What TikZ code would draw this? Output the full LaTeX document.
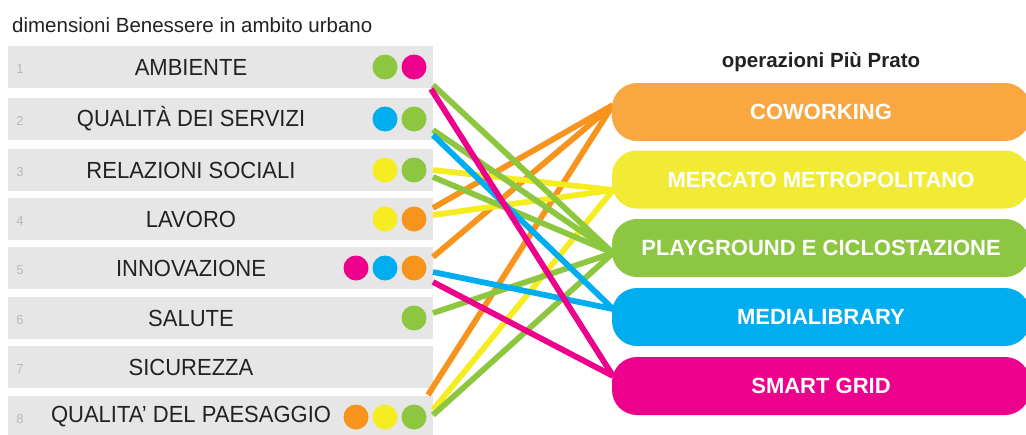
\documentclass[tikz,border=0pt]{standalone}
\usepackage{fontspec}
\setmainfont{Liberation Sans}
\definecolor{cgreen}{HTML}{8DC63F}
\definecolor{cpink}{HTML}{EC008C}
\definecolor{cblue}{HTML}{00AEEF}
\definecolor{cyellow}{HTML}{F5EC22}
\definecolor{corange}{HTML}{F7941D}
\definecolor{borange}{HTML}{F9A740}
\definecolor{byellow}{HTML}{F2EB35}
\definecolor{bgreen}{HTML}{8DC641}
\definecolor{barbg}{HTML}{E6E6E6}
\definecolor{numgray}{HTML}{B8B8B8}
\definecolor{txt}{HTML}{222222}
\tikzset{
  bar/.style={fill=barbg, draw=none, minimum width=425pt, minimum height=42pt, inner sep=0pt},
  lbl/.style={font=\fontsize{22}{26}\selectfont, text=txt, inner sep=0pt, yscale=1.06},
  num/.style={font=\fontsize{13}{15}\selectfont, text=numgray, inner sep=0pt},
  dot/.style={circle, minimum size=25pt, inner sep=0pt, draw=none},
  opbox/.style={rounded corners=25pt, minimum width=418pt, minimum height=58pt, inner sep=0pt, draw=none,
     text=white, font=\bfseries\fontsize{22}{26}\selectfont},
  link/.style={line width=5.8pt}
}
\begin{document}
\begin{tikzpicture}[x=1pt,y=-1pt]
\useasboundingbox (0,0) rectangle (1026,434);
% titles
\node[anchor=base west, inner sep=0pt, text=txt, font=\fontsize{20.5}{24}\selectfont] (tl) at (12,32) {dimensioni Benessere in ambito urbano};
\node[anchor=base, inner sep=0pt, text=txt, font=\bfseries\fontsize{20.5}{24}\selectfont] (tr) at (821,67) {operazioni Più Prato};
% bars
\foreach \i/\y/\t in {1/67/AMBIENTE, 2/119/QUALITÀ DEI SERVIZI, 3/170/RELAZIONI SOCIALI, 4/219/LAVORO, 5/268/INNOVAZIONE, 6/318/SALUTE, 7/367/SICUREZZA, 8/417/QUALITA' DEL PAESAGGIO}{
  \node[bar] (b\i) at (220.5,\y) {};
  \node[num] (n\i) at (20,\y+2) {\i};
  \node[lbl] (l\i) at (191,\y) {\t};
}
% dots
\node[dot, fill=cgreen] (d1a) at (385,67) {};
\node[dot, fill=cpink] (d1b) at (414,67) {};
\node[dot, fill=cblue] (d2a) at (385,119) {};
\node[dot, fill=cgreen] (d2b) at (414,119) {};
\node[dot, fill=cyellow] (d3a) at (385,170) {};
\node[dot, fill=cgreen] (d3b) at (414,170) {};
\node[dot, fill=cyellow] (d4a) at (385,219) {};
\node[dot, fill=corange] (d4b) at (414,219) {};
\node[dot, fill=cpink] (d5a) at (356,268) {};
\node[dot, fill=cblue] (d5b) at (385,268) {};
\node[dot, fill=corange] (d5c) at (414,268) {};
\node[dot, fill=cgreen] (d6a) at (414,318) {};
\node[dot, fill=corange] (d8a) at (356,417) {};
\node[dot, fill=cyellow] (d8b) at (385,417) {};
\node[dot, fill=cgreen] (d8c) at (414,417) {};
% link end points on the left
\coordinate (s1g) at (433,85);
\coordinate (s1p) at (431,89);
\coordinate (s2g) at (433,130);
\coordinate (s2b) at (433,135);
\coordinate (s3y) at (433,170);
\coordinate (s3g) at (433,177);
\coordinate (s4o) at (433,208);
\coordinate (s4y) at (433,215);
\coordinate (s5o) at (433,257);
\coordinate (s5b) at (433,272);
\coordinate (s5p) at (433,282);
\coordinate (s6g) at (433,313);
\coordinate (s8o) at (428,395);
\coordinate (s8y) at (433,410);
\coordinate (s8g) at (433,415);
% link end points on the right
\coordinate (tO) at (613,105);
\coordinate (tY) at (613,190);
\coordinate (tG) at (613,253);
\coordinate (tB) at (613,309);
\coordinate (tP) at (613,376);
% links
\foreach \s in {s4o,s5o,s8o} \draw[link, corange] (\s) -- (tO);
\foreach \s in {s3y,s4y,s8y} \draw[link, cyellow] (\s) -- (tY);
\foreach \s in {s1g,s2g,s3g,s6g,s8g} \draw[link, cgreen] (\s) -- (tG);
\foreach \s in {s2b,s5b} \draw[link, cblue] (\s) -- (tB);
\foreach \s in {s1p,s5p} \draw[link, cpink] (\s) -- (tP);
% operation boxes
\node[opbox, fill=borange] (r1) at (821,112) {COWORKING};
\node[opbox, fill=byellow] (r2) at (821,179.5) {MERCATO METROPOLITANO};
\node[opbox, fill=bgreen] (r3) at (821,248) {PLAYGROUND E CICLOSTAZIONE};
\node[opbox, fill=cblue] (r4) at (821,317) {MEDIALIBRARY};
\node[opbox, fill=cpink] (r5) at (821,386) {SMART GRID};
\end{tikzpicture}
\end{document}
